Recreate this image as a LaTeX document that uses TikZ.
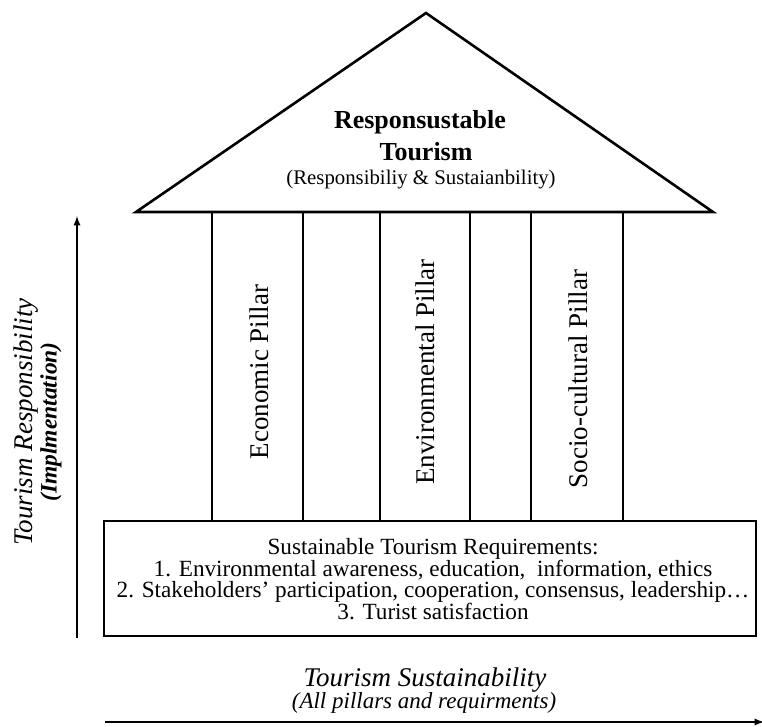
\documentclass[tikz,border=0pt]{standalone}
\usepackage{fontspec}
\setmainfont{Liberation Serif}
\usepackage{tikz}
\usetikzlibrary{arrows}
\usetikzlibrary{positioning}

\begin{document}
\begin{tikzpicture}[x=1pt, y=-1pt, >=latex']
		\tikzstyle{wall}=[line width=2.6pt, line join=miter]
		\tikzstyle{axis}=[-latex, line width=2.2pt]
		\tikzstyle{pillar}=[rotate=90, font=\fontsize{27}{30}\selectfont]
		\tikzstyle{title}=[font=\fontsize{26}{30}\selectfont\bfseries]
		\useasboundingbox (0,0) rectangle (762,727);
		% roof
		\coordinate (apex) at (426,13);
		\coordinate (roofL) at (136,212);
		\coordinate (roofR) at (713,212);
		\draw[wall] (roofL) -- (apex) -- (roofR) -- cycle;
		\node[title] (resp) at (420,122) {Responsustable};
		\node[title] (tour) at (426,152) {Tourism};
		\node[font=\fontsize{20.8}{24}\selectfont] (sub) at (421,180) {(Responsibiliy \& Sustaianbility)};
		% base
		\node[wall, draw, rectangle, minimum width=652pt, minimum height=115pt, inner sep=0pt] (base) at (430,578.5) {};
		\node[align=center, font=\fontsize{23.2}{21.5}\selectfont] (req) at (433,579) {Sustainable Tourism Requirements:\\ 1. Environmental awareness, education,~ information, ethics\\ 2. Stakeholders' participation, cooperation, consensus, leadership\dots\\ 3. Turist satisfaction};
		% pillars
		\foreach \px [count=\i] in {212,303,380,470,531,623}
			\draw[wall] (\px,212) coordinate (top\i) -- (\px,521) coordinate (bot\i);
		\node[pillar] (eco) at (259,372) {Economic Pillar};
		\node[pillar] (env) at (425,372) {Environmental Pillar};
		\node[pillar] (soc) at (578,379) {Socio-cultural Pillar};
		% axes
		\coordinate (yfrom) at (77,638);
		\coordinate (yto) at (77,216);
		\draw[axis] (yfrom) -- (yto);
		\node[rotate=90, font=\fontsize{27}{30}\selectfont\itshape] (ylab) at (26,422) {Tourism Responsibility};
		\node[rotate=90, font=\fontsize{23.5}{26}\selectfont\itshape\bfseries] (ysub) at (51,422) {(Implmentation)};
		\coordinate (xfrom) at (105,722);
		\coordinate (xto) at (764,722);
		\draw[axis] (xfrom) -- (xto);
		\node[font=\fontsize{27}{30}\selectfont\itshape] (xlab) at (425,680) {Tourism Sustainability};
		\node[font=\fontsize{23}{26}\selectfont\itshape] (xsub) at (424,703) {(All pillars and requirments)};
	\end{tikzpicture}
\end{document}
